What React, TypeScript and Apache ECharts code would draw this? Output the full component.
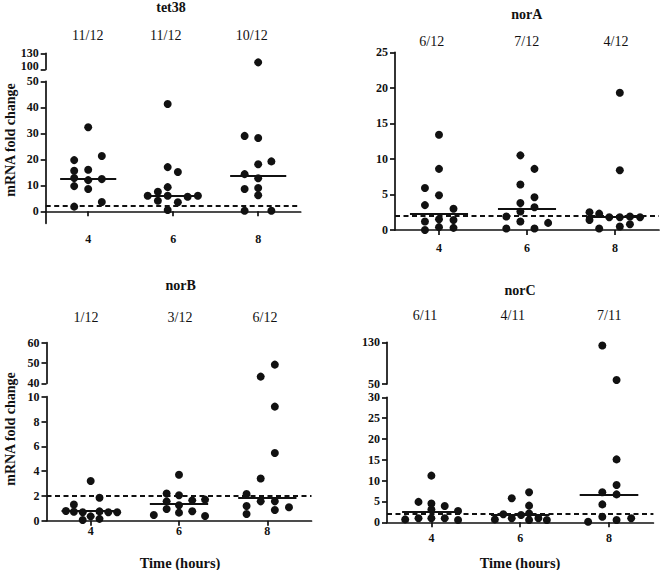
import React, { useEffect, useRef } from "react";
import * as echarts from "echarts";

// ---------- data ----------
const times = [4, 6, 8];
const threshold = 2;

// tet38
const tet38Values = [
  [32.3, 19.7, 21.3, 15.6, 16.0, 12.8, 12.0, 12.4, 9.7, 8.6, 1.8, 3.6],
  [41.3, 17.0, 15.1, 7.5, 9.3, 6.0, 6.0, 5.6, 6.0, 4.1, 3.5, 0.5],
  [113, 29.0, 28.2, 19.2, 18.1, 14.3, 12.7, 8.6, 9.0, 6.2, 0.2, 0.2],
];
const tet38Jitter = [
  [0, -0.33, 0.32, -0.33, 0, -0.33, 0, 0.32, -0.33, 0, -0.33, 0.32],
  [-0.13, -0.13, 0.11, -0.36, -0.13, -0.6, -0.13, 0.34, 0.58, -0.36, 0.11, -0.13],
  [0, -0.32, 0, 0.31, 0, -0.32, 0, -0.32, 0, 0, -0.32, 0.31],
];
const tet38Medians = [12.6, 6.0, 13.6];
const tet38Counts = ["11/12", "11/12", "10/12"];
const tet38LowerTicks = [0, 10, 20, 30, 40, 50];
const tet38UpperTicks = [100, 130];

// norA
const norAValues = [
  [13.4, 8.6, 5.9, 4.9, 3.5, 3.0, 1.2, 1.5, 1.4, 0.0, 0.4, 0.3],
  [10.5, 8.6, 6.4, 4.6, 3.8, 3.2, 2.6, 1.9, 1.2, 1.0, 0.2, 0.2],
  [19.3, 8.4, 2.5, 2.3, 1.4, 1.8, 1.8, 1.9, 1.8, 0.2, 0.5, 0.8],
];
const norAJitter = [
  [0, 0, -0.32, 0, -0.32, 0.33, -0.32, 0, 0.33, -0.32, 0, 0.33],
  [-0.15, 0.17, -0.15, 0.17, -0.15, 0.17, -0.15, -0.47, -0.15, 0.48, -0.47, 0.17],
  [0.11, 0.11, -0.58, -0.36, -0.58, -0.13, 0.11, 0.34, 0.57, -0.36, 0.11, 0.34],
];
const norAMedians = [2.3, 2.95, 1.8];
const norACounts = ["6/12", "7/12", "4/12"];
const norALowerTicks = [0, 5, 10, 15, 20, 25];

// norB
const norBValues = [
  [3.2, 1.85, 1.3, 0.78, 0.72, 0.68, 0.75, 0.68, 0.68, 0.05, 0.35, 0.15],
  [3.7, 2.2, 2.05, 1.56, 1.64, 1.7, 1.24, 0.94, 0.46, 0.65, 0.76, 0.38],
  [49.2, 43.3, 9.2, 5.46, 3.4, 2.15, 1.18, 1.56, 1.56, 1.08, 0.54, 0.86],
];
const norBJitter = [
  [0, 0.2, -0.38, -0.56, -0.38, -0.18, 0.2, 0.4, 0.6, -0.18, 0, 0.2],
  [0, -0.28, 0, -0.28, 0.3, 0.59, 0, -0.28, -0.57, 0, 0.3, 0.59],
  [0.17, -0.15, 0.17, 0.17, -0.15, -0.47, -0.47, -0.15, 0.17, 0.49, -0.47, 0.17],
];
const norBMedians = [0.78, 1.4, 1.85];
const norBCounts = ["1/12", "3/12", "6/12"];
const norBLowerTicks = [0, 2, 4, 6, 8, 10];
const norBUpperTicks = [40, 50, 60];

// norC
const norCValues = [
  [11.2, 4.9, 4.5, 3.9, 3.1, 2.7, 0.7, 0.96, 0.96, 0.96, 0.55],
  [7.2, 5.76, 4.0, 2.15, 1.95, 1.75, 0.7, 0.96, 0.55, 0.96, 0.55],
  [124, 57.7, 15.1, 8.95, 7.2, 6.7, 4.3, 1.35, 0.15, 0.55, 0.96],
];
const norCJitter = [
  [0, -0.29, 0, 0.3, 0, 0.6, -0.59, -0.29, 0, 0.3, 0.6],
  [0.2, -0.19, 0.2, 0.2, -0.38, 0.02, -0.57, -0.19, 0.2, 0.41, 0.6],
  [-0.15, 0.17, 0.17, 0.17, -0.15, 0.17, -0.15, -0.15, -0.47, 0.17, 0.5],
];
const norCMedians = [2.6, 1.75, 6.7];
const norCCounts = ["6/11", "4/11", "7/11"];
const norCLowerTicks = [0, 5, 10, 15, 20, 25, 30];
const norCUpperTicks = [50, 130];

// ---------- layout ----------
const FONT = "'Liberation Serif', 'Times New Roman', serif";
const INK = "#111";

type Seg = { top: number; height: number; min: number; max: number; ticks: number[]; labelLift?: number };
type Panel = {
  title: string;
  values: number[][];
  jitter: number[][];
  medians: number[];
  counts: string[];
  left: number;
  width: number;
  lower: Seg;
  upper?: Seg;
  xLabelMargin: number;
  titlePos: [number, number];
  countY: number;
  countX: number[];
  yName?: [number, number];
  xName?: [number, number];
};

const panels: Panel[] = [
  {
    title: "tet38", values: tet38Values, jitter: tet38Jitter, medians: tet38Medians, counts: tet38Counts,
    left: 45.7, width: 255,
    lower: { top: 81.3, height: 142, min: -4.6, max: 50, ticks: tet38LowerTicks },
    upper: { top: 53.3, height: 16, min: 100, max: 130, ticks: tet38UpperTicks, labelLift: 6 },
    xLabelMargin: 10, titlePos: [171, 7], countY: 35, countX: [87.8, 165.8, 251.7], yName: [10, 140],
  },
  {
    title: "norA", values: norAValues, jitter: norAJitter, medians: norAMedians, counts: norACounts,
    left: 395, width: 264,
    lower: { top: 52.3, height: 177.7, min: 0, max: 25, ticks: norALowerTicks },
    xLabelMargin: 12, titlePos: [526.7, 14], countY: 41.7, countX: [431.7, 526.7, 616],
  },
  {
    title: "norB", values: norBValues, jitter: norBJitter, medians: norBMedians, counts: norBCounts,
    left: 46.5, width: 265,
    lower: { top: 396.7, height: 124, min: 0, max: 10, ticks: norBLowerTicks },
    upper: { top: 342.7, height: 40.6, min: 40, max: 60, ticks: norBUpperTicks },
    xLabelMargin: 4, titlePos: [180.7, 285], countY: 317.5, countX: [86, 180, 265], yName: [10, 429], xName: [180, 563],
  },
  {
    title: "norC", values: norCValues, jitter: norCJitter, medians: norCMedians, counts: norCCounts,
    left: 387, width: 266.4,
    lower: { top: 397.3, height: 125, min: 0, max: 30, ticks: norCLowerTicks },
    upper: { top: 342.3, height: 41.7, min: 50, max: 130, ticks: norCUpperTicks },
    xLabelMargin: 9.5, titlePos: [520, 290], countY: 315, countX: [425, 512.7, 609.3], xName: [520, 563],
  },
];

const tickFont = { fontFamily: FONT, fontWeight: "bold" as const, fontSize: 12, color: INK };
const axisLineStyle = { color: INK, width: 1.7 };

function buildOption() {
  const grid: any[] = [];
  const xAxis: any[] = [];
  const yAxis: any[] = [];
  const series: any[] = [];
  const graphic: any[] = [];

  const addSeg = (p: Panel, seg: Seg, isLower: boolean) => {
    const idx = grid.length;
    grid.push({ left: p.left, top: seg.top, width: p.width, height: seg.height, containLabel: false, outerBoundsMode: "none" });
    xAxis.push({
      type: "value", gridIndex: idx, min: 3, max: 9, show: isLower,
      axisLine: { show: true, lineStyle: axisLineStyle },
      axisTick: { show: true, length: 5, lineStyle: axisLineStyle, customValues: times },
      axisLabel: { show: true, margin: p.xLabelMargin, customValues: times, ...tickFont },
      splitLine: { show: false },
    });
    const yLabel: any = { show: true, margin: 7, customValues: seg.ticks, ...tickFont };
    if (seg.labelLift) {
      yLabel.formatter = (v: number) => (v === seg.min ? `{lift|${v}}` : `${v}`);
      yLabel.rich = { lift: { ...tickFont, padding: [0, 0, seg.labelLift, 0] } };
    }
    yAxis.push({
      type: "value", gridIndex: idx, min: seg.min, max: seg.max,
      axisLine: { show: true, lineStyle: axisLineStyle },
      axisTick: { show: true, length: 5, lineStyle: axisLineStyle, customValues: seg.ticks },
      axisLabel: yLabel,
      splitLine: { show: false },
    });
    return idx;
  };

  panels.forEach((p) => {
    const lo = addSeg(p, p.lower, true);
    const up = p.upper ? addSeg(p, p.upper, false) : -1;

    const lowerPts: number[][] = [];
    const upperPts: number[][] = [];
    p.values.forEach((grp, gi) => {
      grp.forEach((v, k) => {
        const pt = [times[gi] + p.jitter[gi][k], v];
        if (v > p.lower.max && up >= 0) upperPts.push(pt);
        else lowerPts.push(pt);
      });
    });

    series.push({
      type: "scatter", xAxisIndex: lo, yAxisIndex: lo, data: lowerPts,
      symbol: "circle", symbolSize: 8, itemStyle: { color: INK, opacity: 1 },
      markLine: {
        silent: true, symbol: ["none", "none"], label: { show: false },
        lineStyle: { color: INK, width: 1.8, type: [5, 3.5], opacity: 1 },
        data: [{ yAxis: threshold }],
      },
    });
    if (up >= 0) {
      series.push({
        type: "scatter", xAxisIndex: up, yAxisIndex: up, data: upperPts,
        symbol: "circle", symbolSize: 8, itemStyle: { color: INK, opacity: 1 },
      });
    }
    series.push({
      type: "lines", coordinateSystem: "cartesian2d", xAxisIndex: lo, yAxisIndex: lo,
      lineStyle: { color: INK, width: 2, opacity: 1 },
      data: p.medians.map((m, gi) => ({ coords: [[times[gi] - 0.66, m], [times[gi] + 0.66, m]] })),
    });

    graphic.push({
      type: "text", x: p.titlePos[0], y: p.titlePos[1],
      style: { text: p.title, fontFamily: FONT, fontWeight: "bold", fontSize: 14, fill: INK, align: "center", verticalAlign: "middle" },
    });
    p.counts.forEach((c, gi) => {
      graphic.push({
        type: "text", x: p.countX[gi], y: p.countY,
        style: { text: c, fontFamily: FONT, fontSize: 14, fill: INK, align: "center", verticalAlign: "middle" },
      });
    });
    if (p.yName) {
      graphic.push({
        type: "text", x: p.yName[0], y: p.yName[1], rotation: Math.PI / 2,
        style: { text: "mRNA fold change", fontFamily: FONT, fontWeight: "bold", fontSize: 14, fill: INK, align: "center", verticalAlign: "middle" },
      });
    }
    if (p.xName) {
      graphic.push({
        type: "text", x: p.xName[0], y: p.xName[1],
        style: { text: "Time (hours)", fontFamily: FONT, fontWeight: "bold", fontSize: 14.5, fill: INK, align: "center", verticalAlign: "middle" },
      });
    }
  });

  return { animation: false, backgroundColor: "#fff", grid, xAxis, yAxis, series, graphic };
}

export default function App() {
  const ref = useRef<HTMLDivElement>(null);
  useEffect(() => {
    if (!ref.current) return;
    const chart = echarts.init(ref.current, null, { renderer: "svg" });
    chart.setOption(buildOption());
    return () => chart.dispose();
  }, []);
  return (
    <div
      ref={ref}
      style={{ position: "absolute", left: 0, top: 0, width: 660, height: 570, background: "#fff" }}
    />
  );
}
